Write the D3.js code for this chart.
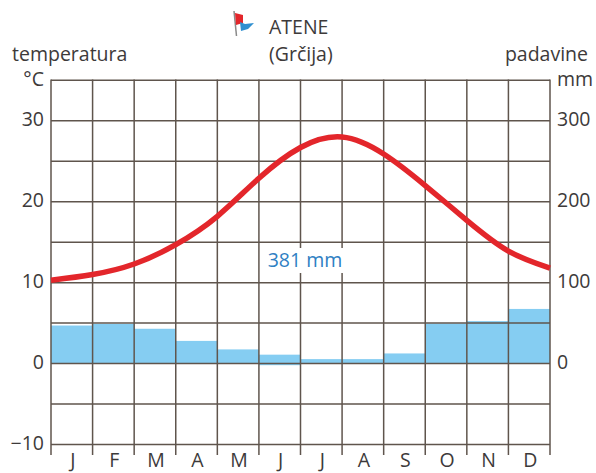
<!DOCTYPE html>
<html>
<head>
<meta charset="utf-8">
<script src="https://cdn.jsdelivr.net/npm/d3@7"></script>
<style>
    html, body { margin: 0; padding: 0; background: #fff; }
    svg { display: block; }
    text { font-family: "Open Sans", "Noto Sans", sans-serif; fill: #3d3a3a; font-size: 19.5px; }
</style>
</head>
<body>
<div id="chart"></div>
<script>
const months = ["J", "F", "M", "A", "M", "J", "J", "A", "S", "O", "N", "D"];
// precipitation per month (mm), base is the small dip of the June bar under zero
const precipitation = [47, 49, 43, 28, 17.5, 11, 5.5, 5.5, 12.5, 49.5, 52.5, 67.5];
const precipitationBase = [0, 0, 0, 0, 0, -2, 0, 0, 0, 0, 0, 0];
// temperature is read at the month boundaries, 13 points
const temperature = [10.3, 11, 12.3, 14.7, 18.2, 22.9, 26.7, 28, 25.9, 22, 17.7, 13.9, 11.8];
const tempTicks = [-10, 0, 10, 20, 30];
const precipTicks = [0, 100, 200, 300];
const gridLevels = [-10, -5, 0, 5, 10, 15, 20, 25, 30, 35];

const width = 596, height = 473;
const margin = { top: 80.3, right: 46, bottom: 28.5, left: 51 };

const svg = d3.select("#chart").append("svg")
    .attr("width", width)
    .attr("height", height);

const xStep = d3.scaleLinear().domain([0, 12]).range([margin.left, width - margin.right]);
const xMonth = d3.scaleBand().domain(d3.range(12)).range([margin.left, width - margin.right]);
const yTemp = d3.scaleLinear().domain([-10, 35]).range([height - margin.bottom, margin.top]);
const yPrecip = d3.scaleLinear().domain([-100, 350]).range(yTemp.range());

// Bars go under the grid
svg.append("g").selectAll("rect")
    .data(precipitation)
    .join("rect")
    .attr("x", (d, i) => xMonth(i))
    .attr("width", xMonth.bandwidth())
    .attr("y", d => yPrecip(d))
    .attr("height", (d, i) => yPrecip(precipitationBase[i]) - yPrecip(d))
    .attr("fill", "#85cdf2");

// Grid
const gridColor = "#5f554d";
svg.append("g").selectAll("line")
    .data(gridLevels)
    .join("line")
    .attr("x1", xStep(0))
    .attr("x2", xStep(12))
    .attr("y1", d => yTemp(d))
    .attr("y2", d => yTemp(d))
    .attr("stroke", gridColor)
    .attr("stroke-width", 1.5);

svg.append("g").selectAll("line")
    .data(d3.range(13))
    .join("line")
    .attr("x1", d => xStep(d))
    .attr("x2", d => xStep(d))
    .attr("y1", yTemp(35) - 0.7)
    .attr("y2", yTemp(-10) + 10.5)
    .attr("stroke", gridColor)
    .attr("stroke-width", 1.5);

// White patch behind the total
svg.append("rect")
    .attr("x", 264).attr("y", 248)
    .attr("width", 81).attr("height", 25)
    .attr("fill", "#fff");

svg.append("text")
    .attr("x", 305).attr("y", 267)
    .attr("text-anchor", "middle")
    .style("fill", "#2f80c3")
    .text("381 mm");

// Temperature curve
const line = d3.line()
    .x((d, i) => xStep(i))
    .y(d => yTemp(d))
    .curve(d3.curveNatural);

svg.append("path")
    .datum(temperature)
    .attr("d", line)
    .attr("fill", "none")
    .attr("stroke", "#e3262b")
    .attr("stroke-width", 5.5);

// Axis labels
svg.append("g").selectAll("text")
    .data(tempTicks)
    .join("text")
    .attr("x", 44)
    .attr("y", d => yTemp(d) + 5)
    .attr("text-anchor", "end")
    .text(d => d < 0 ? "\u2212" + Math.abs(d) : d);

svg.append("g").selectAll("text")
    .data(precipTicks)
    .join("text")
    .attr("x", 557)
    .attr("y", d => yPrecip(d) + 5)
    .text(d => d);

// Month letters sit a bit higher than the crop of the original so they stay whole
svg.append("g").selectAll("text")
    .data(months)
    .join("text")
    .attr("x", (d, i) => xMonth(i) + xMonth.bandwidth() / 2 + 1)
    .attr("y", 467)
    .attr("text-anchor", "middle")
    .text(d => d);

// Titles
const labels = [
    { text: "temperatura", x: 12, y: 61, anchor: "start" },
    { text: "\u00b0C", x: 44, y: 86, anchor: "end" },
    { text: "padavine", x: 588, y: 61, anchor: "end" },
    { text: "mm", x: 557, y: 86, anchor: "start" },
    { text: "ATENE", x: 269, y: 34, anchor: "start" },
    { text: "(Gr\u010dija)", x: 269, y: 61, anchor: "start" }
];
svg.append("g").selectAll("text")
    .data(labels)
    .join("text")
    .attr("x", d => d.x)
    .attr("y", d => d.y)
    .attr("text-anchor", d => d.anchor)
    .text(d => d.text);

// Small flag next to the title
const flag = svg.append("g");
flag.append("path").attr("d", "M234 11 L236.5 36").attr("stroke", "#8a8a8a").attr("stroke-width", 1.5);
flag.append("path").attr("d", "M235 13 L243 15 L243 23 L236 25 Z").attr("fill", "#e3262b");
flag.append("path").attr("d", "M240 22 L245 24 L254 23 L248 29 L241 31 Z").attr("fill", "#2f8fd0");
</script>
</body>
</html>
